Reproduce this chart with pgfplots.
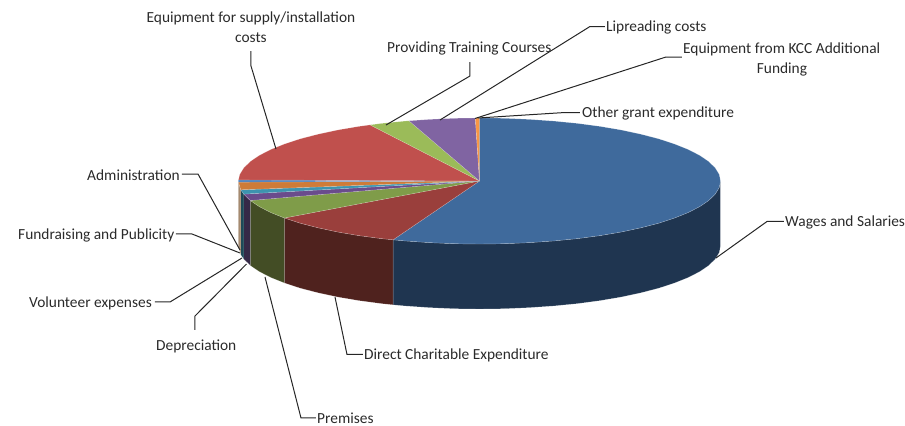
\documentclass[border=0pt]{standalone}
\usepackage{fontspec}
\setmainfont{Carlito}
\usepackage{pgfplots}
\pgfplotsset{compat=1.18}
\definecolor{wT}{HTML}{3F6A9C}\definecolor{wS}{HTML}{1F3550}
\definecolor{dT}{HTML}{9A3F3C}\definecolor{dS}{HTML}{4F221E}
\definecolor{pT}{HTML}{7F9C49}\definecolor{pS}{HTML}{434D25}
\definecolor{deT}{HTML}{6A4C8C}\definecolor{deS}{HTML}{352947}
\definecolor{vT}{HTML}{3D94AF}\definecolor{vS}{HTML}{1D4A58}
\definecolor{fT}{HTML}{CE7B38}\definecolor{fS}{HTML}{A58A70}
\definecolor{aT}{HTML}{4F81BD}
\definecolor{eT}{HTML}{C0504D}
\definecolor{tT}{HTML}{9BBB59}
\definecolor{lT}{HTML}{8064A2}
\definecolor{kT}{HTML}{F79646}
\definecolor{txt}{HTML}{2A2A2A}
\tikzset{
  sl/.style={fill=#1,draw=white,draw opacity=0.3,line width=0.4pt,line join=round,mark=none},
  ld/.style={draw=black!85,line width=1pt,mark=none,line join=round},
  lab/.style={font=\fontsize{15.4}{17}\selectfont,text=txt,inner sep=0pt},
}
\begin{document}
\begin{tikzpicture}
\begin{axis}[
  width=905pt,height=426pt,scale only axis,
  xmin=0,xmax=905,ymin=0,ymax=426,y dir=reverse,
  hide axis,clip=false,
]
\path (axis cs:0,0) rectangle (axis cs:905,426);
% sides
\addplot[sl=wS] coordinates {(720.5,181)(719.2,187.6)(715.2,194.1)(708.7,200.5)(699.7,206.6)(688.2,212.5)(674.5,218)(658.6,223.2)(640.8,227.8)(621.2,232)(600,235.6)(577.5,238.6)(554,240.9)(529.6,242.6)(504.7,243.7)(479.5,244)(454.3,243.7)(429.4,242.6)(405,240.9)(393.1,239.8)(393.1,304.8)(405,305.9)(429.4,307.6)(454.3,308.7)(479.5,309)(504.7,308.7)(529.6,307.6)(554,305.9)(577.5,303.6)(600,300.6)(621.2,297)(640.8,292.8)(658.6,288.2)(674.5,283)(688.2,277.5)(699.7,271.6)(708.7,265.5)(715.2,259.1)(719.2,252.6)(720.5,246)} --cycle;
\addplot[sl=dS] coordinates {(393.1,239.8)(381.5,238.6)(359,235.6)(337.8,232)(318.2,227.8)(300.4,223.2)(284.5,218)(284.5,283)(300.4,288.2)(318.2,292.8)(337.8,297)(359,300.6)(381.5,303.6)(393.1,304.8)} --cycle;
\addplot[sl=pS] coordinates {(284.5,218)(270.8,212.5)(259.3,206.6)(250.3,200.5)(250.3,265.5)(259.3,271.6)(270.8,277.5)(284.5,283)} --cycle;
\addplot[sl=deS] coordinates {(250.3,200.5)(243.8,194.1)(243.8,259.1)(250.3,265.5)} --cycle;
\addplot[sl=vS] coordinates {(243.8,194.1)(240.8,189.8)(240.8,254.8)(243.8,259.1)} --cycle;
\addplot[sl=fS] coordinates {(240.8,189.8)(238.5,182.1)(238.5,247.1)(240.8,254.8)} --cycle;
% top
\addplot[sl=wT] coordinates {(479.5,181)(479.5,118)(504.7,118.3)(529.6,119.4)(554,121.1)(577.5,123.4)(600,126.4)(621.2,130)(640.8,134.2)(658.6,138.8)(674.5,144)(688.2,149.5)(699.7,155.4)(708.7,161.5)(715.2,167.9)(719.2,174.4)(720.5,181)(719.2,187.6)(715.2,194.1)(708.7,200.5)(699.7,206.6)(688.2,212.5)(674.5,218)(658.6,223.2)(640.8,227.8)(621.2,232)(600,235.6)(577.5,238.6)(554,240.9)(529.6,242.6)(504.7,243.7)(479.5,244)(454.3,243.7)(429.4,242.6)(405,240.9)(393.1,239.8)} --cycle;
\addplot[sl=dT] coordinates {(479.5,181)(393.1,239.8)(381.5,238.6)(359,235.6)(337.8,232)(318.2,227.8)(300.4,223.2)(284.5,218)} --cycle;
\addplot[sl=pT] coordinates {(479.5,181)(284.5,218)(270.8,212.5)(259.3,206.6)(250.3,200.5)} --cycle;
\addplot[sl=deT] coordinates {(479.5,181)(250.3,200.5)(243.8,194.1)} --cycle;
\addplot[sl=vT] coordinates {(479.5,181)(243.8,194.1)(240.8,189.8)} --cycle;
\addplot[sl=fT] coordinates {(479.5,181)(240.8,189.8)(238.5,182.1)} --cycle;
\addplot[sl=aT] coordinates {(479.5,181)(238.5,182.1)(238.5,179.9)} --cycle;
\addplot[sl=eT] coordinates {(479.5,181)(238.5,179.9)(239.8,174.4)(243.8,167.9)(250.3,161.5)(259.3,155.4)(270.8,149.5)(284.5,144)(300.4,138.8)(318.2,134.2)(337.8,130)(359,126.4)(370.1,124.9)} --cycle;
\addplot[sl=tT] coordinates {(479.5,181)(370.1,124.9)(381.5,123.4)(405,121.1)(409,120.8)} --cycle;
\addplot[sl=lT] coordinates {(479.5,181)(409,120.8)(429.4,119.4)(454.3,118.3)(475.3,118)} --cycle;
\addplot[sl=kT] coordinates {(479.5,181)(475.3,118)(479.5,118)} --cycle;
% leader lines
\addplot[ld] coordinates {(251,51)(251,66)(276,149)};
\addplot[ld] coordinates {(470,62)(470,76)(386,125)};
\addplot[ld] coordinates {(605,26.5)(590,26.5)(440,120)};
\addplot[ld] coordinates {(682,57)(666,57)(475,118.5)};
\addplot[ld] coordinates {(580,112.5)(565,112.5)(478,118)};
\addplot[ld] coordinates {(784,221.5)(767,221.5)(716,258)};
\addplot[ld] coordinates {(363,354.5)(347,354.5)(335,297)};
\addplot[ld] coordinates {(316,418)(301,418)(265,277)};
\addplot[ld] coordinates {(195,330)(195,316)(246.5,264)};
\addplot[ld] coordinates {(155,302)(170,302)(242,258)};
\addplot[ld] coordinates {(176,234)(192,234)(240,253)};
\addplot[ld] coordinates {(182,174)(198,174)(240,250)};
% labels
\node[lab] at (axis cs:251,18) {Equipment for supply/installation};
\node[lab] at (axis cs:251,38) {costs};
\node[lab,anchor=west] at (axis cs:387,48) {Providing Training Courses};
\node[lab,anchor=west] at (axis cs:606,27) {Lipreading costs};
\node[lab,anchor=west] at (axis cs:683,49) {Equipment from KCC Additional};
\node[lab] at (axis cs:782,69) {Funding};
\node[lab,anchor=west] at (axis cs:582,113) {Other grant expenditure};
\node[lab,anchor=west] at (axis cs:785,222) {Wages and Salaries};
\node[lab,anchor=west] at (axis cs:364,355) {Direct Charitable Expenditure};
\node[lab,anchor=west] at (axis cs:317,418) {Premises};
\node[lab,anchor=west] at (axis cs:156,346) {Depreciation};
\node[lab,anchor=west] at (axis cs:29,303) {Volunteer expenses};
\node[lab,anchor=west] at (axis cs:18,235) {Fundraising and Publicity};
\node[lab,anchor=west] at (axis cs:87,175) {Administration};
\end{axis}
\end{tikzpicture}
\end{document}
